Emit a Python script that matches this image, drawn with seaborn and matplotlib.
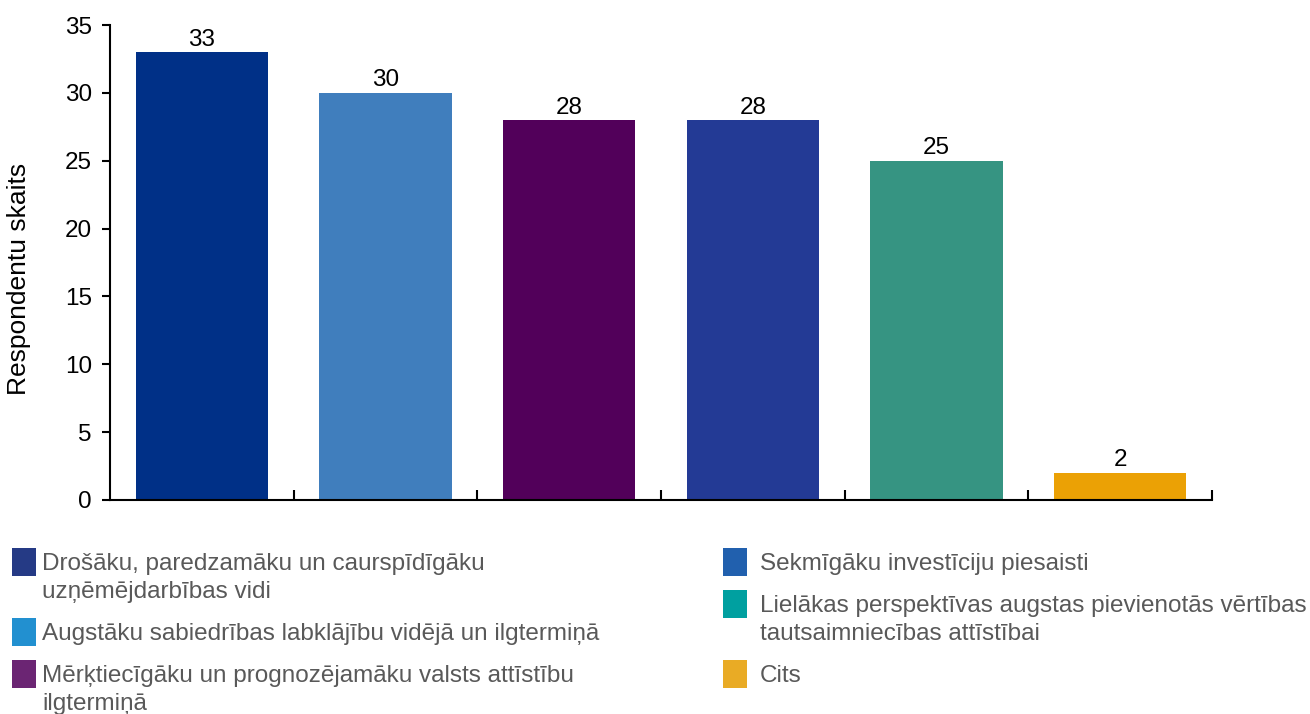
import matplotlib
matplotlib.use("Agg")
import matplotlib.pyplot as plt
import seaborn as sns
import pandas as pd
from matplotlib.patches import Rectangle

categories = [
    "Drošāku, paredzamāku un caurspīdīgāku\nuzņēmējdarbības vidi",
    "Augstāku sabiedrības labklājību vidējā un ilgtermiņā",
    "Mērķtiecīgāku un prognozējamāku valsts attīstību\nilgtermiņā",
    "Sekmīgāku investīciju piesaisti",
    "Lielākas perspektīvas augstas pievienotās vērtības\ntautsaimniecības attīstībai",
    "Cits",
]
values = [33, 30, 28, 28, 25, 2]
bar_colors = ["#003087", "#407EBD", "#52005A", "#233A95", "#369482", "#EBA105"]
legend_colors = ["#253A85", "#2290D0", "#6B2573", "#2160AE", "#00A0A0", "#E9AB25"]
yticks = [0, 5, 10, 15, 20, 25, 30, 35]

sns.set_theme(style="white")
plt.rcParams["font.family"] = ["Liberation Sans", "DejaVu Sans"]

W, H = 1310, 714
fig = plt.figure(figsize=(W / 100, H / 100), dpi=100)
ax = fig.add_axes([110 / W, 1 - 500 / H, (1212 - 110) / W, (500 - 25) / H])

df = pd.DataFrame({"cat": categories, "val": values})
sns.barplot(data=df, x="cat", y="val", hue="cat", palette=bar_colors,
            width=0.72, legend=False, ax=ax, saturation=1, linewidth=0)

for c in ax.containers:
    ax.bar_label(c, padding=1, fontsize=17.5, color="black")

ax.set_xlim(-0.5, len(categories) - 0.5)
ax.set_ylim(0, 35)
ax.set_yticks(yticks)
ax.set_yticklabels([str(t) for t in yticks])
ax.set_xticks([i + 0.5 for i in range(len(categories))])
ax.set_xticklabels([])
ax.set_xlabel("")
ax.set_ylabel("Respondentu skaits", fontsize=19, color="black")
ax.yaxis.set_label_coords(-0.072, 0.465)

for s in ["top", "right"]:
    ax.spines[s].set_visible(False)
for s in ["left", "bottom"]:
    ax.spines[s].set_color("black")
    ax.spines[s].set_linewidth(1.5)

ax.tick_params(axis="y", direction="out", length=6, width=1.5, color="black",
               labelsize=17.5, labelcolor="black", left=True, pad=7)
ax.tick_params(axis="x", direction="in", length=7, width=1.5, color="black",
               bottom=True)

# Custom legend (two columns, swatch aligned with first line)
line_h = 28
col_x = [(12, 42), (723, 760)]
col_top = [548, 548]
gap = 14
for i, (lab, col) in enumerate(zip(categories, legend_colors)):
    c = 0 if i < 3 else 1
    sx, tx = col_x[c]
    top = col_top[c]
    fig.patches.append(Rectangle((sx / W, 1 - (top + 28) / H), 24 / W, 28 / H,
                                 transform=fig.transFigure, facecolor=col,
                                 edgecolor="none"))
    lines = lab.split("\n")
    for j, ln in enumerate(lines):
        yc = top + 16 + j * line_h
        fig.text(tx / W, 1 - yc / H, ln, fontsize=17.5, color="#595959",
                 ha="left", va="center")
    col_top[c] = top + 28 + (len(lines) - 1) * line_h + gap

fig.savefig("out.png", dpi=100)
